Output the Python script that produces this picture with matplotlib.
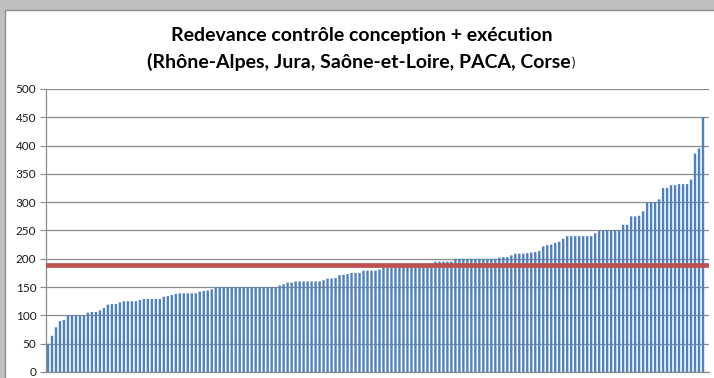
import numpy as np
import matplotlib
matplotlib.use("Agg")
import matplotlib.pyplot as plt
from matplotlib.patches import Rectangle

# montant de la redevance par dossier, trié par ordre croissant
redevance = [
    50, 64, 79, 90, 92, 100, 100, 100, 100, 100,
    105, 106, 106, 109, 113, 119, 120, 120, 123, 125,
    125, 125, 125, 127, 129, 129, 129, 129, 129, 133,
    134, 136, 138, 139, 139, 139, 139, 139, 142, 143,
    144, 146, 150, 150, 150, 150, 150, 150, 150, 150,
    150, 150, 150, 150, 150, 150, 150, 150, 153, 155,
    158, 158, 160, 160, 160, 160, 160, 160, 160, 162,
    165, 165, 166, 171, 172, 173, 175, 175, 175, 179,
    179, 179, 179, 181, 184, 184, 186, 187, 188, 188,
    189, 189, 190, 190, 190, 191, 192, 195, 195, 195,
    195, 195, 200, 200, 200, 200, 200, 200, 200, 200,
    200, 200, 200, 202, 203, 203, 206, 209, 209, 209,
    210, 211, 212, 214, 222, 224, 225, 228, 230, 235,
    240, 240, 240, 240, 240, 240, 240, 245, 250, 250,
    250, 250, 250, 250, 260, 260, 275, 275, 276, 284,
    300, 300, 300, 305, 325, 325, 330, 330, 332, 332,
    332, 340, 386, 395, 450,
]
moyenne = 189
yticks = [0, 50, 100, 150, 200, 250, 300, 350, 400, 450, 500]

titre1 = "Redevance contrôle conception + exécution"
titre2 = "(Rhône-Alpes, Jura, Saône-et-Loire, PACA, Corse"

plt.rcParams['font.family'] = ['Lato', 'DejaVu Sans']

fig = plt.figure(figsize=(7.14, 3.78), dpi=100)
fig.patch.set_facecolor('#BFBFBF')

# zone du graphique (fond blanc, bord gris)
W, H = 714, 378
fig.patches.append(Rectangle((5 / W, -0.1), 1.2, 1.1 - 10 / H, transform=fig.transFigure,
                             facecolor='white', edgecolor='#8C8C8C', lw=1.0, zorder=-5))

ax = fig.add_axes([46 / W, 6 / H, 663 / W, 283 / H])
ax.set_zorder(2)
ax.set_facecolor('white')

x = np.arange(len(redevance))
barres = ax.bar(x, redevance, width=0.6, color='#4F81BD', linewidth=0, zorder=2)
for b in barres:
    b.set_snap(False)
ax.axhline(moyenne, color='#C0504D', lw=3.4, zorder=3)

ax.set_xlim(-0.5, len(redevance) + 0.5)
ax.set_ylim(0, 500)
ax.set_yticks(yticks)
ax.set_xticks([])
ax.grid(axis='y', color='#8C8C8C', lw=0.9, zorder=0)
ax.set_axisbelow(True)
ax.tick_params(axis='y', length=4, width=0.8, color='#8C8C8C', labelsize=8.5,
               labelcolor='#1A1A1A', pad=3)
for side in ['top', 'right']:
    ax.spines[side].set_visible(False)
for side in ['left', 'bottom']:
    ax.spines[side].set_color('#8C8C8C')
    ax.spines[side].set_linewidth(0.9)

# titre sur deux lignes, parenthèse finale plus petite
fig.text(362 / W, 1 - 36 / H, titre1, ha='center', va='center',
         fontsize=14, fontweight='bold', color='black', zorder=3)
t2 = fig.text(359 / W, 1 - 62 / H, titre2, ha='center', va='center',
              fontsize=14, fontweight='bold', color='black', zorder=3)
fig.canvas.draw()
bb = t2.get_window_extent(renderer=fig.canvas.get_renderer())
fig.text(bb.x1 / W + 0.5 / W, 1 - 63 / H, ")", ha='left', va='center',
         fontsize=9, color='black', zorder=3)

fig.savefig("out.png", dpi=100, facecolor=fig.get_facecolor())
